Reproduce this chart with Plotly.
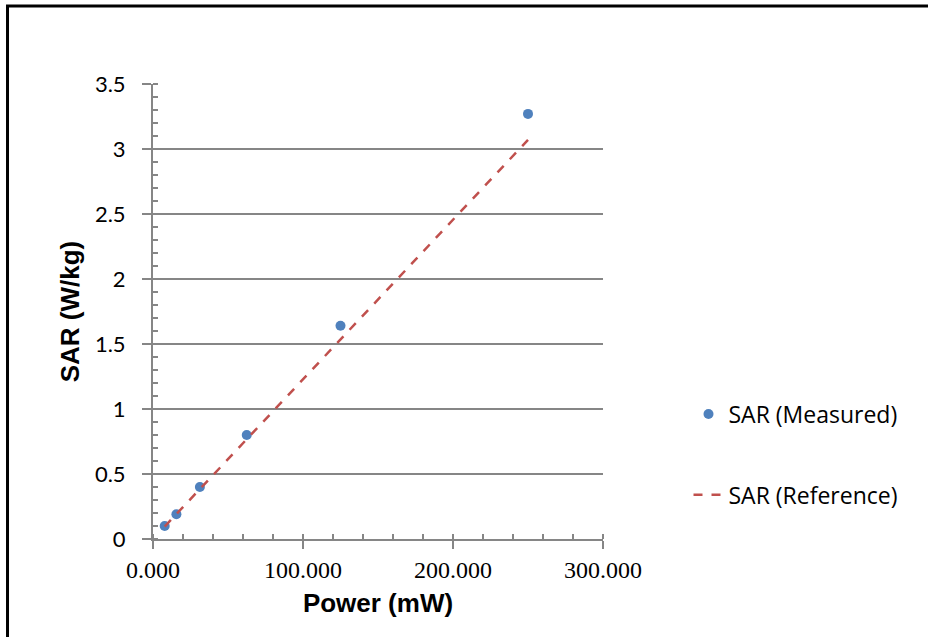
import plotly.graph_objects as go

power_mw = [7.8, 15.6, 31.25, 62.5, 125.0, 250.0]
sar_measured = [0.10, 0.19, 0.40, 0.80, 1.64, 3.27]
sar_reference = [0.096, 0.192, 0.384, 0.768, 1.535, 3.07]

x_ticks = [0, 100, 200, 300]
y_ticks = [0, 0.5, 1, 1.5, 2, 2.5, 3, 3.5]

grid = "#868686"

fig = go.Figure()
fig.add_trace(go.Scatter(
    x=power_mw, y=sar_measured, mode="markers", name="SAR (Measured)",
    marker=dict(color="#4F81BD", size=10), legendgroup="a", cliponaxis=False))
fig.add_trace(go.Scatter(
    x=power_mw, y=sar_reference, mode="lines", name="SAR (Reference)",
    line=dict(color="#C0504D", width=2.5, dash="dash"), legendgroup="b"))

fig.update_layout(
    width=928, height=637,
    margin=dict(l=153, r=325, t=84, b=98),
    paper_bgcolor="white", plot_bgcolor="white",
    showlegend=True,
    legend=dict(x=1.19, xanchor="left", y=0.322, yanchor="top",
                font=dict(family="Open Sans", size=23, color="#000000"),
                tracegroupgap=48, bgcolor="rgba(0,0,0,0)"),
    xaxis=dict(
        range=[0, 300], tickvals=x_ticks, tickformat=".3f",
        showgrid=False, zeroline=False,
        showline=True, linecolor=grid, linewidth=2,
        ticks="outside", ticklen=8, tickwidth=2, tickcolor=grid,
        minor=dict(dtick=20, ticks="inside", ticklen=5, tickwidth=2, tickcolor=grid, showgrid=False),
        tickfont=dict(family="Liberation Serif", size=24, color="#000000"),
        title=dict(text="<b>Power (mW)</b>", font=dict(family="Liberation Sans", size=26, color="#000000"), standoff=12),
    ),
    yaxis=dict(
        range=[0, 3.5], tickvals=y_ticks,
        showgrid=True, gridcolor=grid, gridwidth=2, zeroline=False,
        showline=True, linecolor=grid, linewidth=2,
        ticks="outside", ticklen=9, tickwidth=2, tickcolor=grid,
        ticklabelstandoff=12,
        minor=dict(dtick=0.1, ticks="inside", ticklen=5, tickwidth=2, tickcolor=grid, showgrid=False),
        tickfont=dict(family="Lato", size=22, color="#000000"),
        title=dict(text="<b>SAR (W/kg)</b>", font=dict(family="Liberation Sans", size=26, color="#000000"), standoff=8),
    ),
    shapes=[dict(type="path", xref="paper", yref="paper",
                 path="M -0.3233,-0.3 L -0.3233,1.1714 L 1.75,1.1714",
                 line=dict(color="black", width=3))],
)

fig.write_html("out.html", config={"displayModeBar": False},
               post_script="document.body.style.margin='0';document.body.style.padding='0';")
